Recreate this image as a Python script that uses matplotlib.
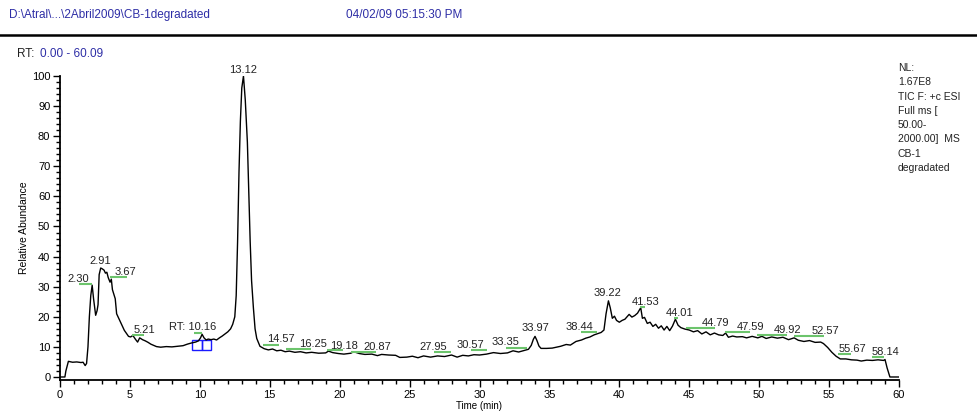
import matplotlib
matplotlib.use("Agg")
import matplotlib.pyplot as plt
from matplotlib.patches import Rectangle
from matplotlib.ticker import MultipleLocator

plt.rcParams['font.family'] = ['Liberation Sans', 'DejaVu Sans']

# chromatogram trace (time in min, relative abundance)
time_min = [0, 0.35, 0.42, 0.6, 0.9, 1.2, 1.5, 1.65, 1.8, 1.9, 2.0, 2.1, 2.2, 2.3, 2.4,
            2.55, 2.65, 2.72, 2.8, 2.91, 3.0, 3.15, 3.25, 3.35, 3.45, 3.58, 3.67, 3.75,
            3.85, 3.95, 4.05, 4.15, 4.3, 4.45, 4.6, 4.75, 4.9, 5.05, 5.21, 5.4, 5.55,
            5.7, 5.9, 6.1, 6.3, 6.5, 6.7, 6.9, 7.2, 7.6, 8.0, 8.4, 8.8, 9.1, 9.4, 9.7,
            9.9, 10.05, 10.16, 10.3, 10.45, 10.6, 10.8, 11.0, 11.2, 11.4, 11.6, 11.8,
            12.0, 12.2, 12.35, 12.5, 12.6, 12.7, 12.8, 12.9, 13.0, 13.12, 13.25, 13.4,
            13.5, 13.6, 13.7, 13.83, 13.95, 14.07, 14.3, 14.6, 14.9, 15.2, 15.5, 15.8,
            16.1, 16.4, 16.8, 17.2, 17.6, 18.0, 18.5, 19.0, 19.2, 19.5, 19.9, 20.3,
            20.8, 21.0, 21.4, 21.8, 22.3, 22.7, 23.0, 23.5, 24.0, 24.3, 24.8, 25.2,
            25.6, 26.0, 26.5, 27.0, 27.5, 28.0, 28.4, 28.8, 29.2, 29.6, 30.0, 30.5,
            31.0, 31.5, 32.0, 32.4, 32.8, 33.2, 33.5, 33.7, 33.85, 33.97, 34.1, 34.25,
            34.4, 34.8, 35.2, 35.5, 35.8, 36.2, 36.5, 36.9, 37.3, 37.6, 37.9, 38.2,
            38.44, 38.7, 38.9, 39.05, 39.22, 39.35, 39.5, 39.65, 39.8, 40.0, 40.2, 40.4,
            40.7, 40.9, 41.1, 41.3, 41.53, 41.65, 41.8, 42.0, 42.2, 42.4, 42.6, 42.8,
            43.0, 43.2, 43.4, 43.6, 43.8, 44.01, 44.2, 44.4, 44.7, 45.0, 45.3, 45.6,
            45.9, 46.2, 46.5, 46.8, 47.1, 47.4, 47.6, 47.8, 48.1, 48.4, 48.8, 49.1,
            49.5, 49.9, 50.2, 50.5, 50.9, 51.3, 51.7, 52.1, 52.5, 52.8, 53.2, 53.6,
            54.0, 54.4, 54.6, 54.9, 55.2, 55.5, 55.8, 56.2, 56.6, 57.0, 57.3, 57.7,
            58.1, 58.5, 58.9, 59.0, 59.15, 59.35, 60.0]
abundance = [0, 0, 2, 5.2, 4.9, 5.0, 4.8, 4.9, 3.8, 4.5, 10, 20, 27, 30.5, 26,
             20.5, 22, 24, 34, 36.2, 36, 35.5, 34.5, 34.8, 33, 31.5, 32.5, 29,
             27.5, 26, 21, 20, 18.5, 17, 15.5, 14.5, 13.5, 13.3, 13.8, 12.5, 11.6,
             13.0, 12.4, 12, 11.5, 10.9, 10.5, 10.1, 9.9, 10.1, 10, 10.2, 10.4, 10.9, 11.3, 11.6,
             12.0, 13, 14.2, 13.0, 12.3, 12.6, 12.4, 12.6, 12.3, 13.0, 13.6, 14.3,
             15.0, 16.0, 17.5, 20, 27, 45, 68, 85, 96, 100, 92, 78,
             62, 45, 32, 23, 16, 12.8, 10.2, 9.4, 9.0, 9.3, 8.7, 8.9,
             8.4, 8.6, 8.2, 8.4, 8.0, 8.2, 7.9, 8.0, 8.6, 8.1, 7.8, 7.6,
             7.9, 8.4, 7.8, 7.5, 7.6, 7.1, 7.5, 7.3, 7.2, 6.5, 6.6, 6.9,
             6.4, 7.0, 6.6, 7.0, 6.8, 7.3, 6.6, 7.2, 7.0, 7.4, 7.3, 7.6,
             8.1, 7.8, 8.0, 8.7, 8.3, 8.8, 9.2, 10.5, 12.5, 13.5, 12.2, 10.3,
             9.5, 9.5, 9.6, 9.9, 10.2, 10.8, 10.6, 11.8, 12.3, 12.9, 13.3, 14.0,
             14.4, 14.8, 15.6, 21, 25.3, 23, 19.5, 20.2, 18.8, 18.2, 18.8, 19.2,
             20.8, 19.9, 20.4, 21.2, 23, 19.5, 19.8, 17.8, 18.2, 16.8, 17.5, 16.2,
             17.0, 15.6, 16.8, 15.4, 16.9, 19.2, 17.2, 16.4, 15.9, 15.6, 15.0, 15.4,
             14.3, 15.0, 14.0, 14.6, 14.0, 13.8, 14.6, 13.2, 13.6, 13.3, 13.4, 13.0,
             13.5, 13.0, 13.5, 12.8, 13.3, 12.9, 13.2, 12.4, 13.0, 12.2, 11.8, 12.1,
             11.5, 11.6, 11.1, 9.8, 8.2, 6.9, 6.0, 6.0, 5.7, 5.6, 5.3, 5.6,
             5.5, 5.7, 5.5, 5.8, 3, 0, 0]

# peak labels: text, label x, label y
peak_labels = ["2.30", "2.91", "3.67", "5.21", "RT: 10.16", "13.12", "14.57", "16.25",
               "19.18", "20.87", "27.95", "30.57", "33.35", "33.97", "38.44", "39.22",
               "41.53", "44.01", "44.79", "47.59", "49.92", "52.57", "55.67", "58.14"]
label_x = [1.34, 2.91, 4.67, 6.01, 9.51, 13.1, 15.79, 18.1,
           20.34, 22.72, 26.7, 29.33, 31.88, 34.02, 37.15, 39.17,
           41.85, 44.3, 46.88, 49.36, 52.0, 54.72, 56.65, 59.06]
label_y = [32.5, 38.6, 34.8, 15.6, 16.5, 102, 12.5, 11.0,
           10.3, 9.9, 9.9, 10.5, 11.5, 16.2, 16.5, 27.8,
           25.0, 21.4, 17.8, 16.5, 15.6, 15.4, 9.4, 8.2]

# green marker bars: start, end, level
bar_start = [1.38, 3.58, 5.13, 9.58, 14.55, 16.17, 19.08, 20.79, 26.75, 29.4, 31.9,
             37.27, 41.49, 43.9, 44.75, 47.57, 49.88, 52.5, 55.67, 58.1]
bar_end = [2.27, 4.77, 6.01, 10.13, 15.69, 17.93, 20.27, 22.6, 27.95, 30.57, 33.38,
           38.39, 41.8, 44.2, 46.85, 49.36, 51.98, 54.65, 56.56, 58.96]
bar_level = [31.0, 33.3, 14.0, 14.7, 10.6, 9.4, 8.9, 8.3, 8.3, 9.0, 9.7,
             15.1, 23.4, 19.6, 16.4, 15.1, 14.1, 13.6, 7.5, 6.5]

info_lines = ["NL:", "1.67E8", "TIC F: +c ESI", "Full ms [", "50.00-",
              "2000.00]  MS", "CB-1", "degradated"]

blue = '#2e2ea6'

fig = plt.figure(figsize=(9.77, 4.16), dpi=100)
ax = fig.add_axes([60 / 977, 36 / 416, 839 / 977, 304 / 416])

ax.plot(time_min, abundance, color='black', lw=1.0)

for x0, x1, lv in zip(bar_start, bar_end, bar_level):
    ax.plot([x0, x1], [lv, lv], color='#6cc46c', lw=1.5, solid_capstyle='butt')

for txt, lx, ly in zip(peak_labels, label_x, label_y):
    ax.text(lx, ly, txt, fontsize=8, ha='center', va='center', color='#222222', clip_on=False)

# RT marker boxes
ax.add_patch(Rectangle((9.42, 9.0), 0.72, 3.3, fill=False, ec='#1a1aff', lw=1))
ax.add_patch(Rectangle((10.14, 9.0), 0.66, 3.3, fill=False, ec='#1a1aff', lw=1))

ax.set_xlim(0, 60)
ax.set_ylim(-1, 100)
ax.spines['top'].set_visible(False)
ax.spines['right'].set_visible(False)
ax.spines['left'].set_linewidth(1.3)
ax.spines['bottom'].set_linewidth(1.3)
ax.xaxis.set_major_locator(MultipleLocator(5))
ax.xaxis.set_minor_locator(MultipleLocator(1))
ax.yaxis.set_major_locator(MultipleLocator(10))
ax.yaxis.set_minor_locator(MultipleLocator(2))
ax.tick_params(which='major', length=5, width=1, labelsize=8, pad=2)
ax.tick_params(which='minor', length=3, width=1)
ax.set_xlabel('Time (min)', fontsize=7, labelpad=1)
ax.set_ylabel('Relative Abundance', fontsize=7.5, labelpad=2)

# header
fig.text(9 / 977, 1 - 15 / 416, r'D:\Atral\...\2Abril2009\CB-1degradated', fontsize=8.5,
         color=blue, va='center')
fig.text(346 / 977, 1 - 15 / 416, '04/02/09 05:15:30 PM', fontsize=8.5, color=blue, va='center')
fig.add_artist(plt.Line2D([0, 1], [1 - 35 / 416, 1 - 35 / 416], color='black', lw=1.8))
fig.text(17 / 977, 1 - 54 / 416, 'RT:', fontsize=8.5, color='#222222', va='center')
fig.text(40 / 977, 1 - 54 / 416, '0.00 - 60.09', fontsize=8.5, color=blue, va='center')

for i, line in enumerate(info_lines):
    fig.text(898 / 977, 1 - (68 + 14.3 * i) / 416, line, fontsize=7.5, color='#222222', va='center')

fig.savefig('out.png', dpi=100)
